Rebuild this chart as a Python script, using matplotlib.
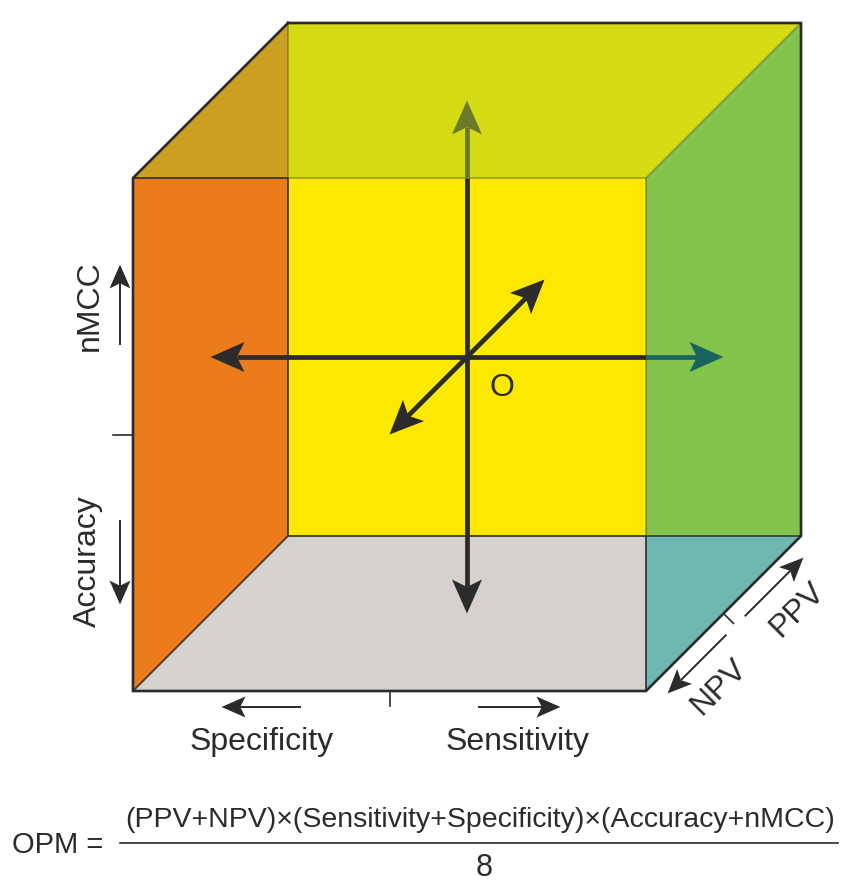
import numpy as np
import matplotlib.pyplot as plt
from matplotlib.patches import Polygon

plt.rcParams['font.family'] = ['Liberation Sans', 'DejaVu Sans']

# cube geometry in pixels: front square + shift towards the back square
FRONT_X, FRONT_Y = 133, 178
SIDE = 513
DEPTH = (155, -155)

FACE_COLORS = {
    "back": "#fde800",
    "top": "#d4da14",
    "top_left": "#c9a021",
    "left": "#ec7b1c",
    "right": "#84c44c",
    "right_low": "#6fb8b2",
    "bottom": "#d6d1ce",
}
INK = "#2b2b2b"
OLIVE = "#6b7a2a"
TEAL = "#1a6460"

AXIS_LABELS = ["nMCC", "Accuracy", "Specificity", "Sensitivity", "PPV", "NPV"]
ORIGIN_LABEL = "O"
FORMULA_LEFT = "OPM ="
FORMULA_NUM = "(PPV+NPV)×(Sensitivity+Specificity)×(Accuracy+nMCC)"
FORMULA_DEN = "8"

fig = plt.figure(figsize=(8.51, 8.84), dpi=100)
ax = fig.add_axes([0, 0, 1, 1])
ax.set_xlim(0, 851)
ax.set_ylim(884, 0)
ax.axis("off")

# corners
x0, y0 = FRONT_X, FRONT_Y
x1, y1 = FRONT_X + SIDE, FRONT_Y + SIDE
dx, dy = DEPTH
bx0, by0, bx1, by1 = x0 + dx, y0 + dy, x1 + dx, y1 + dy

regions = {
    "back": [(bx0, y0), (x1, y0), (x1, by1), (bx0, by1)],
    "top": [(bx0, by0), (bx1, by0), (x1, y0), (bx0, y0)],
    "top_left": [(x0, y0), (bx0, by0), (bx0, y0)],
    "left": [(x0, y0), (bx0, y0), (bx0, by1), (x0, y1)],
    "right": [(x1, y0), (bx1, by0), (bx1, by1), (x1, by1)],
    "right_low": [(x1, by1), (bx1, by1), (x1, y1)],
    "bottom": [(x0, y1), (bx0, by1), (x1, by1), (x1, y1)],
}
for name, pts in regions.items():
    ax.add_patch(Polygon(pts, closed=True, facecolor=FACE_COLORS[name], lw=0, zorder=1))

# inner edges: (start, end, alpha)
inner = [
    ((bx0, by0), (bx0, y0), 0.35),
    ((bx0, y0), (bx0, by1), 0.9),
    ((x0, y0), (bx0, y0), 0.9),
    ((bx0, y0), (x1, y0), 0.35),
    ((x1, y0), (x1, by1), 0.35),
    ((x1, by1), (x1, y1), 0.9),
    ((bx0, by1), (x1, by1), 0.9),
    ((x1, by1), (bx1, by1), 0.8),
    ((x1, y0), (bx1, by0), 0.35),
    ((x0, y1), (bx0, by1), 0.9),
]
for (a, b, al) in inner:
    ax.plot([a[0], b[0]], [a[1], b[1]], color=INK, lw=1.3, alpha=al, zorder=2,
            solid_capstyle="butt")

outline = [(bx0, by0), (bx1, by0), (bx1, by1), (x1, y1), (x0, y1), (x0, y0), (bx0, by0)]
ax.plot([p[0] for p in outline], [p[1] for p in outline], color=INK, lw=1.9, zorder=3,
        solid_joinstyle="miter")


def head(tip, d, L, W, color, z=5):
    d = np.asarray(d, float)
    d = d / np.hypot(*d)
    n = np.array([-d[1], d[0]])
    tip = np.asarray(tip, float)
    base = tip - L * d
    notch = tip - 0.78 * L * d
    ax.add_patch(Polygon([tip, base + W / 2 * n, notch, base - W / 2 * n],
                         closed=True, facecolor=color, lw=0, zorder=z))
    return notch


def arrow(start, tip, L, W, lw, color=INK, z=5):
    start = np.asarray(start, float)
    tip = np.asarray(tip, float)
    notch = head(tip, tip - start, L, W, color, z)
    ax.plot([start[0], notch[0]], [start[1], notch[1]], color=color, lw=lw, zorder=z,
            solid_capstyle="butt")


# central axes through the origin O
cx, cy = x0 + SIDE / 2 + dx / 2, y0 + SIDE / 2 + dy / 2
half = SIDE / 2
HL, HW, CLW = 34, 30, 3.4
# horizontal
arrow((cx, cy), (cx - half, cy), HL, HW, CLW)
ax.plot([cx, x1], [cy, cy], color=INK, lw=CLW, zorder=5, solid_capstyle="butt")
arrow((x1, cy), (cx + half, cy), HL, HW, CLW, color=TEAL)
# vertical
arrow((cx, cy), (cx, cy + half), HL, HW, CLW)
ax.plot([cx, cx], [cy, y0], color=INK, lw=CLW, zorder=5, solid_capstyle="butt")
arrow((cx, y0), (cx, cy - half), HL, HW, CLW, color=OLIVE)
# depth
arrow((cx, cy), (cx - dx / 2, cy - dy / 2), HL, HW, CLW)
arrow((cx, cy), (cx + dx / 2, cy + dy / 2), HL, HW, CLW)
ax.text(cx + 35, cy + 31, ORIGIN_LABEL, fontsize=23, color=INK, ha="center", va="center",
        zorder=6)

# small side arrows and ticks
SL, SW, SLW = 24, 21, 1.4
mid_y = y0 + SIDE / 2
ax.plot([x0 - 20, x0], [mid_y, mid_y], color=INK, lw=1.2)
arrow((120, mid_y - 90), (120, mid_y - 170), SL, SW, SLW)
arrow((120, mid_y + 85), (120, mid_y + 170), SL, SW, SLW)
ax.text(90, mid_y - 129, AXIS_LABELS[0], fontsize=23, color=INK, rotation=90,
        ha="center", va="center")
ax.text(88, mid_y + 127, AXIS_LABELS[1], fontsize=23, color=INK, rotation=90,
        ha="center", va="center")

mid_x = x0 + SIDE / 2
ax.plot([mid_x, mid_x], [y1, y1 + 15], color=INK, lw=1.2)
arrow((mid_x - 89, 707), (mid_x - 168, 707), SL, SW, SLW)
arrow((mid_x + 88, 707), (mid_x + 171, 707), SL, SW, SLW)
ax.text(mid_x - 128, 742, AXIS_LABELS[2], fontsize=23, color=INK, ha="center", va="center")
ax.text(mid_x + 128, 742, AXIS_LABELS[3], fontsize=23, color=INK, ha="center", va="center")

# diagonal edge (PPV / NPV)
mx, my = (x1 + bx1) / 2, (y1 + by1) / 2
u = np.array([1, -1]) / np.sqrt(2)
nrm = np.array([1, 1]) / np.sqrt(2)
m = np.array([mx, my])
ax.plot([mx, mx + 14 * nrm[0]], [my, my + 14 * nrm[1]], color=INK, lw=1.2)
arrow(m + 13 * u + 17 * nrm, m + 96 * u + 17 * nrm, SL, SW, SLW)
arrow(m - 13 * u + 17 * nrm, m - 96 * u + 17 * nrm, SL, SW, SLW)
p = m + 55 * u + 49 * nrm
ax.text(p[0], p[1], AXIS_LABELS[4], fontsize=23, color=INK, rotation=45,
        ha="center", va="center")
p = m - 55 * u + 49 * nrm
ax.text(p[0], p[1], AXIS_LABELS[5], fontsize=23, color=INK, rotation=45,
        ha="center", va="center")

# formula
ax.text(58, 845, FORMULA_LEFT, fontsize=21, color=INK, ha="center", va="center")
ax.text(480, 820, FORMULA_NUM, fontsize=20.5, color=INK, ha="center", va="center")
ax.plot([120, 838], [843, 843], color=INK, lw=1.2)
ax.text(484, 868, FORMULA_DEN, fontsize=22, color=INK, ha="center", va="center")

fig.savefig("out.png", dpi=100, facecolor="white")
